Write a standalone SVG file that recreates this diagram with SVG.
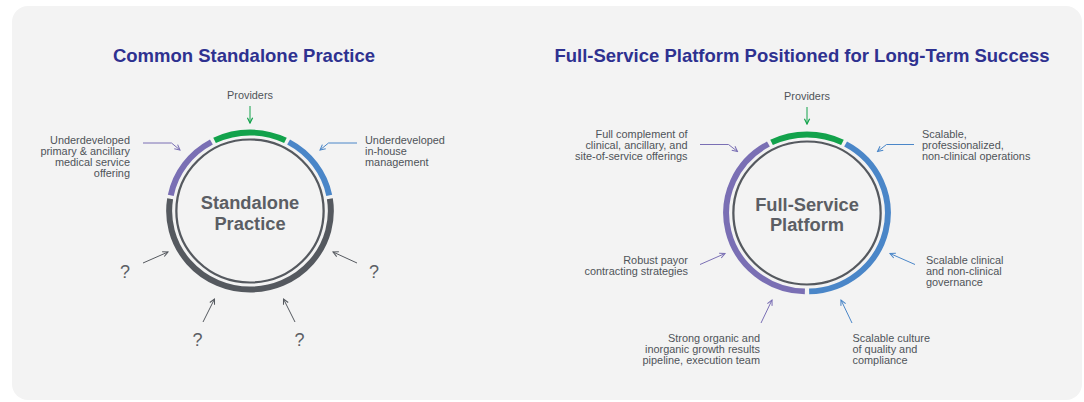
<svg xmlns="http://www.w3.org/2000/svg" width="1084" height="402" viewBox="0 0 1084 402">
<style>
.title{font-family:"Liberation Sans",Arial,sans-serif;font-weight:bold;font-size:18.5px;fill:#2e3190;text-anchor:middle}
.lbl{font-family:"Liberation Sans",Arial,sans-serif;font-size:10.9px;fill:#4f5359}
.r{text-anchor:end}
.c{text-anchor:middle}
.ctr{font-family:"Liberation Sans",Arial,sans-serif;font-weight:bold;font-size:18.3px;fill:#5b5e64;text-anchor:middle}
.q{font-family:"Liberation Sans",Arial,sans-serif;font-size:18px;fill:#5b5e64;text-anchor:middle}
.seg{fill:none;stroke-width:5.8}
.inner{fill:none;stroke:#55595f;stroke-width:2.2}
.g{stroke:#12a24b}
.p{stroke:#7a6fb4}
.b{stroke:#4a86c8}
.k{stroke:#55595f}
.ar{fill:none;stroke-width:1}
</style>
<defs>
<marker id="mkg" viewBox="0 0 8 8" refX="7" refY="4" markerWidth="7" markerHeight="7" markerUnits="userSpaceOnUse" orient="auto">
<path d="M1,1 L7,4 L1,7" fill="none" stroke="#12a24b" stroke-width="1.4"/>
</marker>
<marker id="mkp" viewBox="0 0 8 8" refX="7" refY="4" markerWidth="7" markerHeight="7" markerUnits="userSpaceOnUse" orient="auto">
<path d="M1,1 L7,4 L1,7" fill="none" stroke="#7a6fb4" stroke-width="1.2"/>
</marker>
<marker id="mkb" viewBox="0 0 8 8" refX="7" refY="4" markerWidth="7" markerHeight="7" markerUnits="userSpaceOnUse" orient="auto">
<path d="M1,1 L7,4 L1,7" fill="none" stroke="#4a86c8" stroke-width="1.2"/>
</marker>
<marker id="mkk" viewBox="0 0 8 8" refX="7" refY="4" markerWidth="7" markerHeight="7" markerUnits="userSpaceOnUse" orient="auto">
<path d="M1,1 L7,4 L1,7" fill="none" stroke="#55595f" stroke-width="1.2"/>
</marker>
</defs>
<rect x="0" y="0" width="1084" height="402" fill="#ffffff"/>
<rect id="panel" x="12" y="6" width="1070" height="394" rx="16" fill="#f3f3f3"/>

<text class="title" x="244" y="62">Common Standalone Practice</text>
<text class="title" x="802" y="62">Full-Service Platform Positioned for Long-Term Success</text>

<g id="left-ring" transform="translate(250 211) scale(1.03 1)">
<circle class="inner" cx="0" cy="0" r="71.5"/>
<path class="seg g" d="M -34.41 -70.56 A 78.5 78.5 0 0 1 34.41 -70.56"/>
<path class="seg b" d="M 37.46 -68.99 A 78.5 78.5 0 0 1 76.92 -15.65"/>
<path class="seg k" d="M 77.53 -12.28 A 78.5 78.5 0 1 1 -77.53 -12.28"/>
<path class="seg p" d="M -76.92 -15.65 A 78.5 78.5 0 0 1 -37.46 -68.99"/>
</g>
<g id="left-center">
<text class="ctr" x="250" y="209">Standalone</text>
<text class="ctr" x="250" y="229.5">Practice</text>
</g>

<g id="right-ring" transform="translate(807 213) scale(1.03 1)">
<circle class="inner" cx="0" cy="0" r="71.5"/>
<path class="seg g" d="M -34.41 -70.56 A 78.5 78.5 0 0 1 34.41 -70.56"/>
<path class="seg b" d="M 37.46 -68.99 A 78.5 78.5 0 0 1 2.055 78.47"/>
<path class="seg p" d="M -2.055 78.47 A 78.5 78.5 0 0 1 -37.46 -68.99"/>
</g>
<g id="right-center">
<text class="ctr" x="807" y="210.5">Full-Service</text>
<text class="ctr" x="807" y="231">Platform</text>
</g>

<g id="connectors">
<path class="ar" stroke="#12a24b" stroke-width="1.5" d="M250 106 L250 123" marker-end="url(#mkg)"/>
<path class="ar" stroke="#7a6fb4" d="M143 143 L171.5 143 L180 150" marker-end="url(#mkp)"/>
<path class="ar" stroke="#4a86c8" d="M357 143 L328.5 143 L320 150" marker-end="url(#mkb)"/>
<path class="ar" stroke="#55595f" d="M143 263 L168 252" marker-end="url(#mkk)"/>
<path class="ar" stroke="#55595f" d="M357 263 L333 252" marker-end="url(#mkk)"/>
<path class="ar" stroke="#55595f" d="M203 322 L214.5 299" marker-end="url(#mkk)"/>
<path class="ar" stroke="#55595f" d="M295 322 L283.5 299" marker-end="url(#mkk)"/>

<path class="ar" stroke="#12a24b" stroke-width="1.5" d="M807 107 L807 124" marker-end="url(#mkg)"/>
<path class="ar" stroke="#7a6fb4" d="M700 144.5 L728.5 144.5 L737.5 151.5" marker-end="url(#mkp)"/>
<path class="ar" stroke="#4a86c8" d="M914 144.5 L886.5 144.5 L877.5 151.5" marker-end="url(#mkb)"/>
<path class="ar" stroke="#7a6fb4" d="M700 264.5 L725 253.5" marker-end="url(#mkp)"/>
<path class="ar" stroke="#4a86c8" d="M915 264.5 L890 253.5" marker-end="url(#mkb)"/>
<path class="ar" stroke="#7a6fb4" d="M761 323 L772 300" marker-end="url(#mkp)"/>
<path class="ar" stroke="#4a86c8" d="M852 323 L841 300" marker-end="url(#mkb)"/>
</g>

<g id="l-providers"><text class="lbl c" x="250" y="99">Providers</text></g>
<g id="l-primary">
<text class="lbl r" x="130" y="143.5">Underdeveloped</text>
<text class="lbl r" x="130" y="154.5">primary &amp; ancillary</text>
<text class="lbl r" x="130" y="165.5">medical service</text>
<text class="lbl r" x="130" y="176.5">offering</text>
</g>
<g id="l-management">
<text class="lbl" x="365" y="143.5">Underdeveloped</text>
<text class="lbl" x="365" y="154.5">in-house</text>
<text class="lbl" x="365" y="165.5">management</text>
</g>
<g id="l-q1"><text class="q" x="125" y="278.3">?</text></g>
<g id="l-q2"><text class="q" x="374" y="278.3">?</text></g>
<g id="l-q3"><text class="q" x="197.5" y="345.5">?</text></g>
<g id="l-q4"><text class="q" x="299.5" y="345.5">?</text></g>

<g id="r-providers"><text class="lbl c" x="807" y="100">Providers</text></g>
<g id="r-complement">
<text class="lbl r" x="687.5" y="138">Full complement of</text>
<text class="lbl r" x="687.5" y="149">clinical, ancillary, and</text>
<text class="lbl r" x="687.5" y="160">site-of-service offerings</text>
</g>
<g id="r-operations">
<text class="lbl" x="922" y="138">Scalable,</text>
<text class="lbl" x="922" y="149">professionalized,</text>
<text class="lbl" x="922" y="160">non-clinical operations</text>
</g>
<g id="r-payor">
<text class="lbl r" x="688" y="263.5">Robust payor</text>
<text class="lbl r" x="688" y="274.5">contracting strategies</text>
</g>
<g id="r-governance">
<text class="lbl" x="926" y="264">Scalable clinical</text>
<text class="lbl" x="926" y="275">and non-clinical</text>
<text class="lbl" x="926" y="286">governance</text>
</g>
<g id="r-growth">
<text class="lbl r" x="760" y="342">Strong organic and</text>
<text class="lbl r" x="760" y="353">inorganic growth results</text>
<text class="lbl r" x="760" y="364">pipeline, execution team</text>
</g>
<g id="r-culture">
<text class="lbl" x="852.5" y="342">Scalable culture</text>
<text class="lbl" x="852.5" y="353">of quality and</text>
<text class="lbl" x="852.5" y="364">compliance</text>
</g>
</svg>
